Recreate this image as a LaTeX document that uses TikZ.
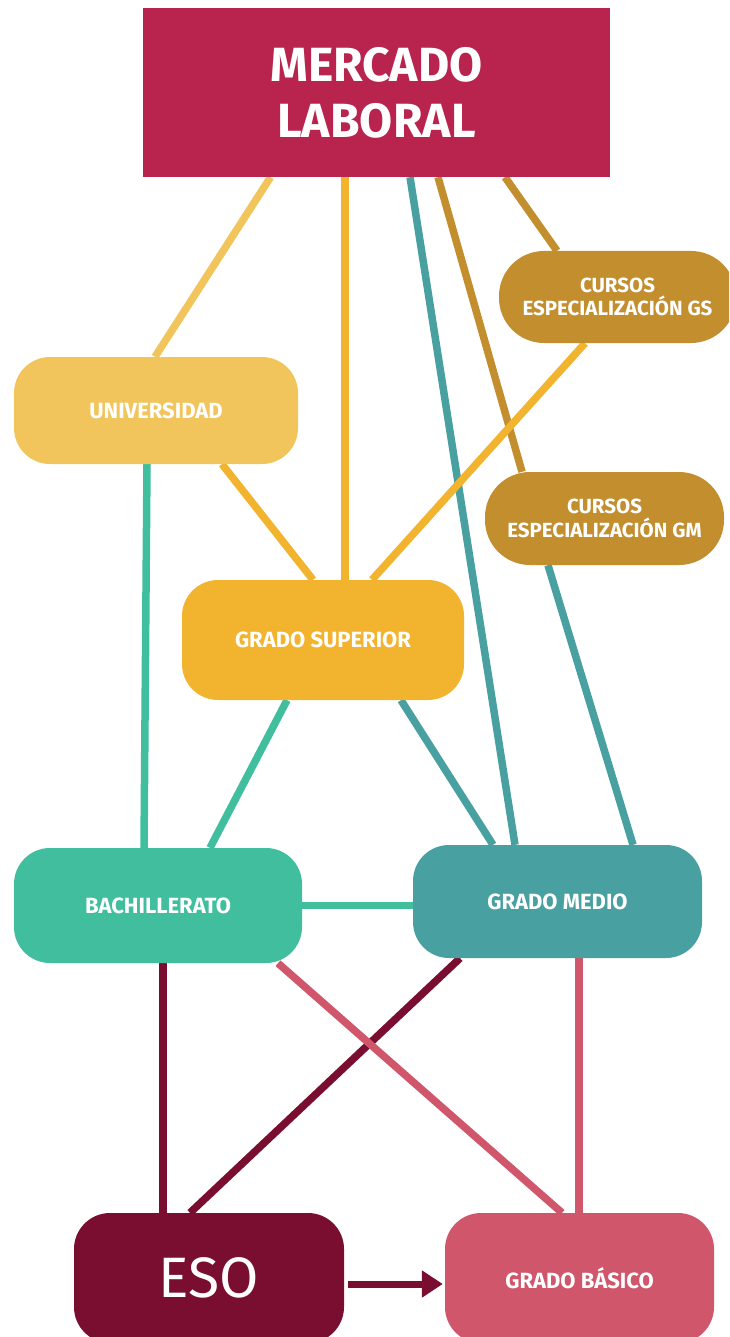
\documentclass[tikz,border=0pt]{standalone}
\usepackage{fontspec}
\setmainfont{Fira Sans}
\usetikzlibrary{positioning,arrows.meta,backgrounds}

\definecolor{mercadoC}{HTML}{B9244F}
\definecolor{univC}{HTML}{F1C55B}
\definecolor{cursosC}{HTML}{C28E2E}
\definecolor{superiorC}{HTML}{F2B42E}
\definecolor{bachC}{HTML}{40BE9E}
\definecolor{medioC}{HTML}{48A0A0}
\definecolor{esoC}{HTML}{7A0E30}
\definecolor{basicoC}{HTML}{CF566B}

\begin{document}
\begin{tikzpicture}[
    x=1pt, y=-1pt,
    stage/.style={rectangle, rounded corners=36pt, text=white, align=center, inner sep=0pt,
      font=\fontsize{22}{24}\selectfont\bfseries},
    pill/.style={stage, rounded corners=45pt, fill=cursosC, font=\fontsize{20.5}{23.5}\selectfont\bfseries},
    link/.style={line width=7.5pt},
    arrow/.style={line width=7pt, -{Triangle[length=21pt,width=26pt]}}
  ]
  \useasboundingbox (0,0) rectangle (729,1337);
  \clip (0,0) rectangle (729,1337);

  % Top box
  \node[rectangle, fill=mercadoC, text=white, align=center, minimum width=467pt, minimum height=169pt,
    font=\fontsize{48}{56}\selectfont\bfseries] (mercado) at (376.5,92.5) {MERCADO\\LABORAL};

  % Studies
  \node[stage, fill=univC, minimum width=284pt, minimum height=107pt] (univ) at (156,410.5) {UNIVERSIDAD};
  \node[pill, minimum width=237pt, minimum height=92pt] (cgs) at (617.5,297) {CURSOS\\ESPECIALIZACIÓN GS};
  \node[pill, minimum width=239pt, minimum height=93pt] (cgm) at (604.5,518.5) {CURSOS\\ESPECIALIZACIÓN GM};
  \node[stage, fill=superiorC, minimum width=282pt, minimum height=120pt] (superior) at (323,640) {GRADO SUPERIOR};
  \node[stage, fill=bachC, minimum width=288pt, minimum height=115pt] (bach) at (158,905.5) {BACHILLERATO};
  \node[stage, fill=medioC, minimum width=289pt, minimum height=113pt] (medio) at (557.5,901.5) {GRADO MEDIO};
  \node[stage, fill=esoC, minimum width=270pt, minimum height=130pt,
    font=\fontsize{57}{60}\selectfont\mdseries] (eso) at (209,1278) {ESO};
  \node[stage, fill=basicoC, minimum width=269pt, minimum height=130pt] (basico) at (579.5,1278) {GRADO BÁSICO};

  % Connectors
  \begin{pgfonlayer}{background}
    \draw[link, univC] ([xshift=-106pt]mercado.south) -- ([xshift=-1pt]univ.north);
    \draw[link, superiorC] ([xshift=-31.5pt]mercado.south) -- ([xshift=22pt]superior.north);
    \draw[link, medioC] ([xshift=33.5pt]mercado.south) -- ([xshift=-42.5pt]medio.north);
    \draw[link, cursosC] ([xshift=61.5pt]mercado.south) -- ([xshift=-82.5pt]cgm.north);
    \draw[link, cursosC] ([xshift=128.5pt]mercado.south) -- ([xshift=-60.5pt]cgs.north);
    \draw[link, superiorC] ([xshift=-32.5pt]cgs.south) -- ([xshift=49pt]superior.north);
    \draw[link, superiorC] ([xshift=66pt]univ.south) -- ([xshift=-10pt]superior.north);
    \draw[link, bachC] ([xshift=-9pt]univ.south) -- ([xshift=-14pt]bach.north);
    \draw[link, bachC] ([xshift=-36pt]superior.south) -- ([xshift=52pt]bach.north);
    \draw[link, medioC] ([xshift=78pt]superior.south) -- ([xshift=-64.5pt]medio.north);
    \draw[link, medioC] ([xshift=-56.5pt]cgm.south) -- ([xshift=75.5pt]medio.north);
    \draw[link, bachC] (bach.east) -- (medio.west |- bach.east);
    \draw[link, esoC] ([xshift=5pt]bach.south) -- ([xshift=-46pt]eso.north);
    \draw[link, esoC] ([xshift=-97.5pt]medio.south) -- ([xshift=-19pt]eso.north);
    \draw[link, basicoC] ([xshift=120pt]bach.south) -- ([xshift=-17.5pt]basico.north);
    \draw[link, basicoC] ([xshift=21.5pt]medio.south) -- ([xshift=-0.5pt]basico.north);
  \end{pgfonlayer}
  \draw[arrow, esoC] ([xshift=4pt,yshift=-6pt]eso.east) -- ([xshift=-2pt,yshift=-6pt]basico.west);

\end{tikzpicture}
\end{document}
